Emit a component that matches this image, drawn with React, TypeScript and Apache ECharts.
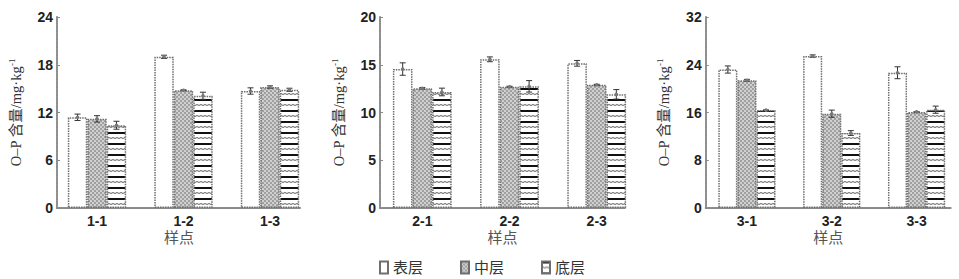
import React, { useEffect, useRef } from 'react';
import * as echarts from 'echarts';

// ---------- data ----------
const layers = ['表层', '中层', '底层'];
const sites1 = ['1-1', '1-2', '1-3'];
const sites2 = ['2-1', '2-2', '2-3'];
const sites3 = ['3-1', '3-2', '3-3'];

const p1Surface = [11.4, 19.0, 14.7];
const p1Middle = [11.2, 14.8, 15.2];
const p1Bottom = [10.4, 14.1, 14.85];
const p1SurfaceErr = [0.4, 0.2, 0.4];
const p1MiddleErr = [0.4, 0.05, 0.15];
const p1BottomErr = [0.5, 0.45, 0.2];

const p2Surface = [14.55, 15.57, 15.15];
const p2Middle = [12.53, 12.7, 12.9];
const p2Bottom = [12.15, 12.74, 11.9];
const p2SurfaceErr = [0.65, 0.25, 0.3];
const p2MiddleErr = [0.08, 0.05, 0.05];
const p2BottomErr = [0.4, 0.6, 0.5];

const p3Surface = [23.2, 25.45, 22.66];
const p3Middle = [21.4, 15.8, 16.1];
const p3Bottom = [16.4, 12.56, 16.47];
const p3SurfaceErr = [0.6, 0.2, 1.0];
const p3MiddleErr = [0.15, 0.6, 0.0];
const p3BottomErr = [0.0, 0.4, 0.6];

const yMaxes = [24, 20, 32];
const yIntervals = [6, 5, 8];
const yAxisName = 'O–P 含量/mg·kg{sup|-1}';
const xAxisName = '样点';

// ---------- layout ----------
const panelLayout = [
  { barLeft: 53.75, barWidth: 259.5, axisLeft: 57, axisWidth: 244 },
  { barLeft: 378.7, barWidth: 261.6, axisLeft: 380, axisWidth: 245 },
  { barLeft: 704.5, barWidth: 261, axisLeft: 705.7, axisWidth: 245 },
];
const gridTop = 17;
const gridBottom = 71;
const catGap = 0.325;

function makeCheckerCanvas() {
  const c = document.createElement('canvas');
  c.width = 4;
  c.height = 4;
  const ctx = c.getContext('2d')!;
  ctx.fillStyle = '#d0d0d0';
  ctx.fillRect(0, 0, 4, 4);
  ctx.fillStyle = '#a0a0a0';
  ctx.fillRect(0, 0, 2, 2);
  ctx.fillRect(2, 2, 2, 2);
  return c;
}

function makeStripeCanvas() {
  const c = document.createElement('canvas');
  c.width = 4;
  c.height = 11;
  const ctx = c.getContext('2d')!;
  ctx.fillStyle = '#ffffff';
  ctx.fillRect(0, 0, 4, 11);
  ctx.fillStyle = '#111111';
  ctx.fillRect(0, 0, 4, 2);
  ctx.fillStyle = '#d0d0d0';
  ctx.fillRect(0, 5, 4, 2);
  ctx.fillStyle = '#8a8a8a';
  ctx.fillRect(0, 5, 2, 1);
  ctx.fillRect(2, 6, 2, 1);
  return c;
}

export default function App() {
  const ref = useRef<HTMLDivElement>(null);

  useEffect(() => {
    if (!ref.current) return;
    const chart = echarts.init(ref.current, undefined, { renderer: 'svg' });

    const checker = makeCheckerCanvas();
    const stripe = makeStripeCanvas();
    const fills: any[] = [
      '#ffffff',
      { image: checker, repeat: 'repeat', imageWidth: 4, imageHeight: 4 },
      { image: stripe, repeat: 'repeat', imageWidth: 4, imageHeight: 11 },
    ];

    const panels = [
      { sites: sites1, vals: [p1Surface, p1Middle, p1Bottom], errs: [p1SurfaceErr, p1MiddleErr, p1BottomErr] },
      { sites: sites2, vals: [p2Surface, p2Middle, p2Bottom], errs: [p2SurfaceErr, p2MiddleErr, p2BottomErr] },
      { sites: sites3, vals: [p3Surface, p3Middle, p3Bottom], errs: [p3SurfaceErr, p3MiddleErr, p3BottomErr] },
    ];

    const axisLine = { show: true, lineStyle: { color: '#8a8a8a', width: 2, type: [1, 1] as any } };
    const tickFont = { fontFamily: '"Liberation Sans", Arial, sans-serif', fontWeight: 'bold' as const, fontSize: 14, color: '#222' };
    const nameFont = '"Liberation Serif", "Noto Sans CJK SC", serif';

    const grid: any[] = [];
    const xAxis: any[] = [];
    const yAxis: any[] = [];
    const series: any[] = [];

    panels.forEach((p, i) => {
      const L = panelLayout[i];
      const gA = 2 * i;
      const gB = 2 * i + 1;
      grid.push({ left: L.barLeft, width: L.barWidth, top: gridTop, bottom: gridBottom });
      grid.push({ left: L.axisLeft, width: L.axisWidth, top: gridTop, bottom: gridBottom });

      xAxis.push({
        type: 'category', gridIndex: gA, data: p.sites,
        axisLine: { show: false }, axisTick: { show: false },
        axisLabel: { ...tickFont, margin: 6 },
      });
      xAxis.push({
        type: 'value', gridIndex: gB, min: 0, max: 1,
        axisLine, axisTick: { show: false }, axisLabel: { show: false }, splitLine: { show: false },
        name: xAxisName, nameLocation: 'middle', nameGap: 22,
        nameTextStyle: { fontFamily: nameFont, fontSize: 15, color: '#555' },
      });
      yAxis.push({ type: 'value', gridIndex: gA, min: 0, max: yMaxes[i], interval: yIntervals[i], show: false });
      yAxis.push({
        type: 'value', gridIndex: gB, min: 0, max: yMaxes[i], interval: yIntervals[i],
        axisLine, axisTick: { show: true, inside: true, length: 3, lineStyle: { color: '#888' } },
        axisLabel: { ...tickFont, margin: 4 }, splitLine: { show: false },
        name: yAxisName, nameLocation: 'middle', nameGap: 33,
        nameTextStyle: {
          fontFamily: nameFont, fontSize: 14.5, color: '#333',
          rich: { sup: { fontFamily: nameFont, fontSize: 9, color: '#333', padding: [0, 0, 8, 0] } },
        },
      });

      layers.forEach((ln, j) => {
        series.push({
          type: 'bar', name: ln, xAxisIndex: gA, yAxisIndex: gA,
          data: p.vals[j], barGap: '0%', barCategoryGap: catGap * 100 + '%',
          itemStyle: { color: fills[j], borderColor: '#6e6e6e', borderWidth: 1.5, borderType: [1.5, 1] },
          emphasis: { disabled: true },
        });
      });

      const errData: number[][] = [];
      p.sites.forEach((_, c) => {
        layers.forEach((__, j) => {
          errData.push([c, j, p.vals[j][c], p.errs[j][c]]);
        });
      });
      series.push({
        type: 'custom', xAxisIndex: gA, yAxisIndex: gA, z: 10, silent: true,
        encode: { x: 0, y: 2 },
        data: errData,
        renderItem: (params: any, api: any) => {
          const c = api.value(0);
          const l = api.value(1);
          const v = api.value(2);
          const e = api.value(3);
          const bandW = api.size([1, 0])[0];
          const barW = (bandW * (1 - catGap)) / 3;
          const base = api.coord([c, v]);
          const x = base[0] + (l - 1) * barW;
          const yT = api.coord([c, v + e])[1];
          const yB = api.coord([c, v - e])[1];
          const st = { stroke: '#333', lineWidth: 1, fill: 'none' };
          const children: any[] = [
            { type: 'line', shape: { x1: x, y1: yT, x2: x, y2: yB }, style: st },
            { type: 'line', shape: { x1: x - 3, y1: yT, x2: x + 3, y2: yT }, style: st },
            { type: 'line', shape: { x1: x - 3, y1: yB, x2: x + 3, y2: yB }, style: st },
            { type: 'circle', shape: { cx: x, cy: base[1], r: 1.8 }, style: { fill: '#777' } },
          ];
          return { type: 'group', children };
        },
      });
    });

    chart.setOption({
      animation: false,
      backgroundColor: '#ffffff',
      legend: {
        data: layers, left: 374, top: 255, icon: 'rect', itemWidth: 8, itemHeight: 12, itemGap: 37,
        textStyle: { fontFamily: nameFont, fontSize: 15, color: '#333' },
      },
      grid, xAxis, yAxis, series,
    });

    return () => chart.dispose();
  }, []);

  return (
    <div
      ref={ref}
      style={{ position: 'fixed', left: 0, top: 0, width: 959, height: 279, background: '#fff' }}
    />
  );
}
